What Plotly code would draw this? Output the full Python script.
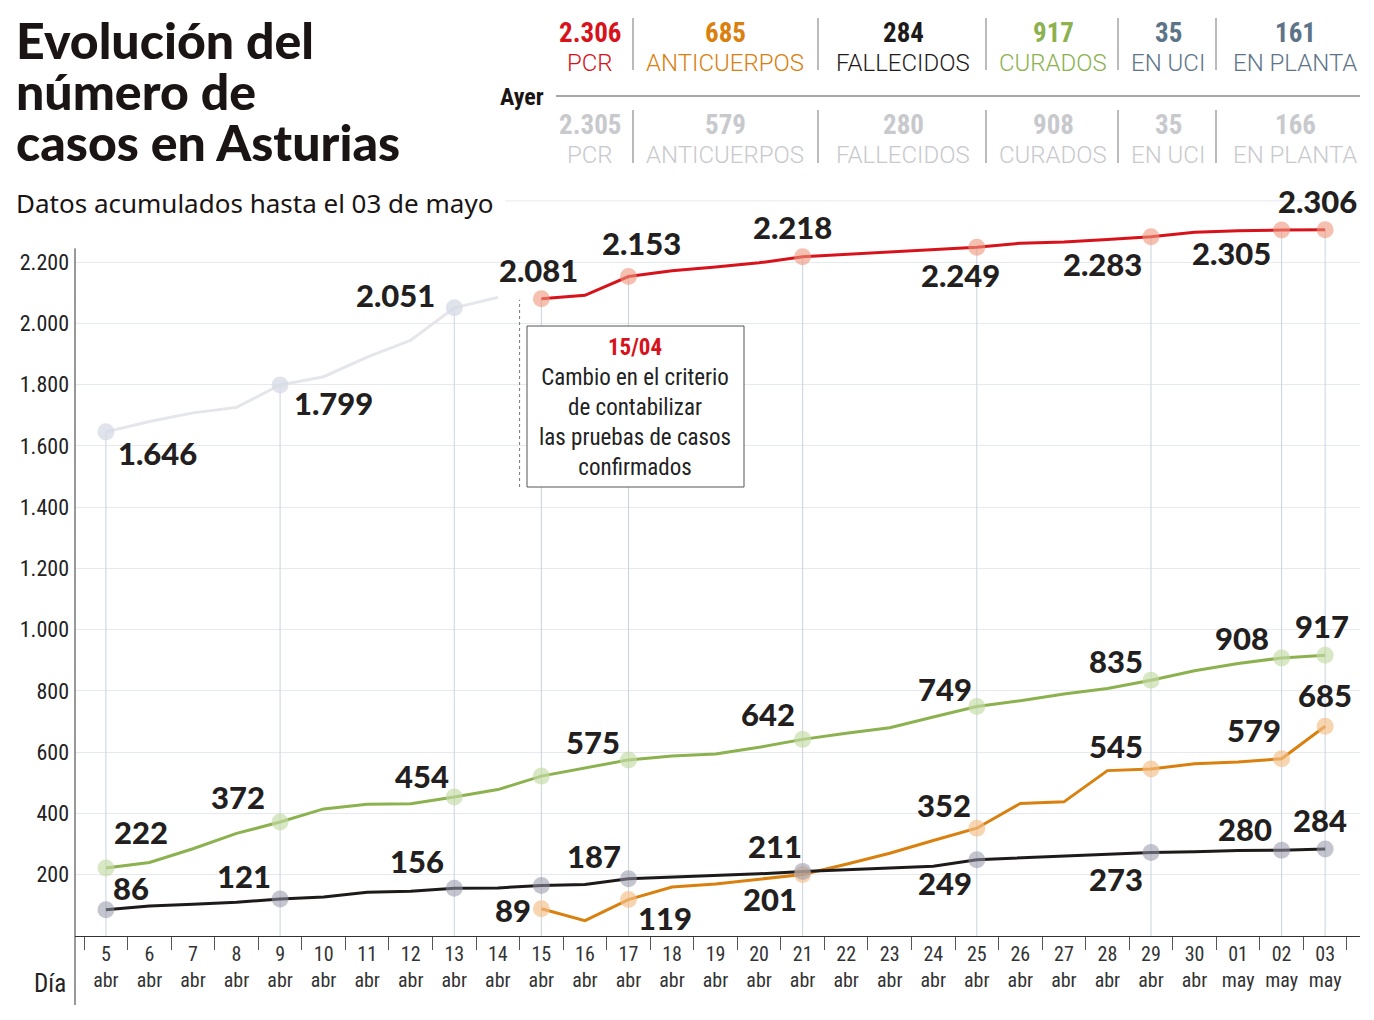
import plotly.graph_objects as go

# ---------------- data ----------------
dias = ["5", "6", "7", "8", "9", "10", "11", "12", "13", "14", "15", "16", "17", "18", "19",
        "20", "21", "22", "23", "24", "25", "26", "27", "28", "29", "30", "01", "02", "03"]
meses = ["abr"] * 26 + ["may"] * 3

pcr_antes = [1646, 1680, 1708, 1726, 1799, 1826, 1890, 1945, 2051, 2085] + [None] * 19
pcr = [None] * 10 + [2081, 2092, 2153, 2172, 2184, 2198, 2218, 2226, 2233, 2241, 2249,
                     2262, 2266, 2274, 2283, 2298, 2303, 2305, 2306]
anticuerpos = [None] * 10 + [89, 50, 119, 160, 170, 186, 201, 234, 270, 312, 352,
                             433, 438, 540, 545, 562, 568, 579, 685]
curados = [222, 240, 285, 335, 372, 415, 430, 432, 454, 478, 522, 548, 575, 588, 594,
           616, 642, 662, 680, 715, 749, 768, 790, 808, 835, 866, 890, 908, 917]
fallecidos = [86, 98, 104, 110, 121, 127, 143, 146, 156, 157, 165, 168, 187, 192, 197,
              203, 211, 216, 222, 228, 249, 255, 262, 268, 273, 275, 279, 280, 284]

destacados = [0, 4, 8, 10, 12, 16, 20, 24, 27, 28]  # highlighted days (indices)

hoy_vals = ["2.306", "685", "284", "917", "35", "161"]
ayer_vals = ["2.305", "579", "280", "908", "35", "166"]
etiquetas = ["PCR", "ANTICUERPOS", "FALLECIDOS", "CURADOS", "EN UCI", "EN PLANTA"]

ytick_vals = [200, 400, 600, 800, 1000, 1200, 1400, 1600, 1800, 2000, 2200]

# ---------------- styles ----------------
cats = [f"{d}<br>{m}" for d, m in zip(dias, meses)]
RED, ORANGE, BLACK, GREEN, GREY, SLATE = "#d7121b", "#d9800f", "#1e1a1a", "#8cb24f", "#e4e6eb", "#5d7488"
LIGHT = "#c8c9cd"
COND = "Liberation Sans Narrow, Roboto Condensed, Arial Narrow, Roboto, sans-serif"
HEAVY = "Lato, sans-serif"
LBL = "#231f20"

W, H = 1374, 1020
L, R, T, B = 75, 14, 170, 84
YMAX = 2501


def PX(x):
    return (x - L) / (W - L - R)


def PY(y):
    return (H - B - y) / (H - T - B)


fig = go.Figure()

# drop lines at highlighted days
dx, dy = [], []
for i in destacados:
    top = max(v for v in (pcr_antes[i], pcr[i]) if v is not None)
    dx += [cats[i], cats[i], None]
    dy += [0, top, None]
fig.add_trace(go.Scatter(x=dx, y=dy, mode="lines", line=dict(color="#c9d3de", width=1),
                         hoverinfo="skip", showlegend=False))

series = [
    (pcr_antes, GREY, "rgba(214,218,228,0.75)"),
    (pcr, RED, "rgba(240,150,125,0.6)"),
    (curados, GREEN, "rgba(195,218,165,0.65)"),
    (anticuerpos, ORANGE, "rgba(245,190,135,0.65)"),
    (fallecidos, BLACK, "rgba(150,150,170,0.55)"),
]
for vals, col, mcol in series:
    fig.add_trace(go.Scatter(x=cats, y=vals, mode="lines", line=dict(color=col, width=3),
                             hoverinfo="skip", showlegend=False))
for vals, col, mcol in series:
    idx = [i for i in destacados if vals[i] is not None]
    fig.add_trace(go.Scatter(x=[cats[i] for i in idx], y=[vals[i] for i in idx], mode="markers",
                             marker=dict(size=17, color=mcol, line=dict(width=0)),
                             hoverinfo="skip", showlegend=False))

# value labels: offsets (px) relative to each highlighted point
offsets = [
    (pcr_antes, {0: (52, -21), 4: (53, -18), 8: (-59, 13)}),
    (pcr, {10: (-3, 29), 12: (13, 34), 16: (-10, 30), 20: (-16, -28), 24: (-48, -27), 27: (-50, -23), 28: (-8, 29)}),
    (curados, {0: (35, 36), 4: (-42, 25), 8: (-32, 21), 12: (-35, 18), 16: (-35, 25), 20: (-32, 18),
               24: (-35, 19), 27: (-40, 20), 28: (-3, 29)}),
    (anticuerpos, {10: (-28, -1), 12: (37, -18), 16: (-33, -25), 20: (-33, 23), 24: (-35, 23),
                   27: (-28, 29), 28: (0, 31)}),
    (fallecidos, {0: (25, 22), 4: (-36, 23), 8: (-37, 27), 12: (-34, 23), 16: (-28, 25), 20: (-32, -23),
                  24: (-35, -27), 27: (-37, 21), 28: (-5, 29)}),
]
ann = []
for vals, offs in offsets:
    for i, (xs, ys) in offs.items():
        ann.append(dict(x=cats[i], y=vals[i], xref="x", yref="y", text=f"{vals[i]:,}".replace(",", "."),
                        showarrow=False, xshift=xs, yshift=ys, xanchor="center", yanchor="middle",
                        font=dict(family=HEAVY, size=31, color=LBL, weight=900)))


def txt(x, y, text, font, xanchor="center", **kw):
    ann.append(dict(x=PX(x), y=PY(y), xref="paper", yref="paper", text=text, showarrow=False,
                    xanchor=xanchor, yanchor="middle", font=font, **kw))


# title & subtitle
for k, line in enumerate(["Evolución del", "número de", "casos en Asturias"]):
    txt(14, 40 + 51 * k, line, dict(family=HEAVY, size=50, color="#1a1414", weight=900), xanchor="left")
txt(14, 203, "Datos acumulados hasta el 03 de mayo",
    dict(family="Noto Sans", size=26, color="#1a1414"), xanchor="left")

# header stats
col_x = [590, 725, 903, 1053, 1168, 1295]
hoy_cols = [RED, ORANGE, BLACK, GREEN, SLATE, SLATE]
NUMF = "Roboto Condensed, Liberation Sans Narrow, Roboto, sans-serif"
for cx, v, e, c, va in zip(col_x, hoy_vals, etiquetas, hoy_cols, ayer_vals):
    txt(cx, 33, v, dict(family=NUMF, size=27, color=c, weight=700))
    txt(cx, 63, e, dict(family="Roboto, sans-serif", size=24, color=c, weight=300))
    txt(cx, 125, va, dict(family=NUMF, size=27, color=LIGHT, weight=700))
    txt(cx, 155, e, dict(family="Roboto, sans-serif", size=24, color=LIGHT, weight=300))
txt(546, 97, "Ayer", dict(family=NUMF, size=24, color="#1a1414", weight=700), xanchor="right")

# note box
txt(635, 407, f"<span style='color:{RED}'><b>15/04</b></span><br>Cambio en el criterio<br>"
              "de contabilizar<br>las pruebas de casos<br>confirmados",
    dict(family=COND, size=23, color="#222"), align="center")
txt(50, 983, "Día", dict(family=COND, size=25, color="#222"))

shapes = []
for sx in [633, 818, 986, 1118, 1216]:
    for y0, y1 in [(18, 70), (110, 163)]:
        shapes.append(dict(type="line", xref="paper", yref="paper", x0=PX(sx), x1=PX(sx), y0=PY(y0), y1=PY(y1),
                           line=dict(color="#777", width=1)))
shapes.append(dict(type="line", xref="paper", yref="paper", x0=PX(556), x1=1, y0=PY(96), y1=PY(96),
                   line=dict(color="#888", width=1.5)))
# partial gridline at 2400
shapes.append(dict(type="line", xref="paper", yref="y", x0=PX(505), x1=1, y0=2400, y1=2400,
                   line=dict(color="#e6e9ee", width=1), layer="below"))
# left axis line
shapes.append(dict(type="line", xref="paper", yref="paper", x0=0, x1=0, y0=PY(1005), y1=2245 / YMAX,
                   line=dict(color="#333", width=1)))
# note box and dotted separator
shapes.append(dict(type="rect", xref="paper", yref="paper", x0=PX(527), x1=PX(744), y0=PY(487), y1=PY(326),
                   line=dict(color="#555", width=1), fillcolor="white"))
shapes.append(dict(type="line", xref="x", yref="y", x0=9.5, x1=9.5, y0=1466, y1=2077,
                   line=dict(color="#777", width=1, dash="dot")))

fig.update_layout(
    width=W, height=H, margin=dict(l=L, r=R, t=T, b=B),
    paper_bgcolor="white", plot_bgcolor="white",
    annotations=ann, shapes=shapes,
    xaxis=dict(type="category", categoryorder="array", categoryarray=cats, range=[-0.71, 28.8],
               showgrid=False, showline=True, linecolor="#333",
               linewidth=1, ticks="outside", tickson="boundaries", ticklen=13, tickcolor="#555",
               tickfont=dict(family=COND, size=20, color="#333"), zeroline=False, fixedrange=True),
    yaxis=dict(range=[0, YMAX], tickvals=ytick_vals,
               ticktext=[f"{v:,}".replace(",", ".") for v in ytick_vals],
               showgrid=True, gridcolor="#e6e9ee", gridwidth=1, zeroline=False, showline=False,
               tickfont=dict(family=COND, size=22, color="#222"), ticklabelstandoff=5, fixedrange=True),
)

fig.write_html("out.html", config={"displayModeBar": False},
               post_script="document.body.style.margin='0';")
